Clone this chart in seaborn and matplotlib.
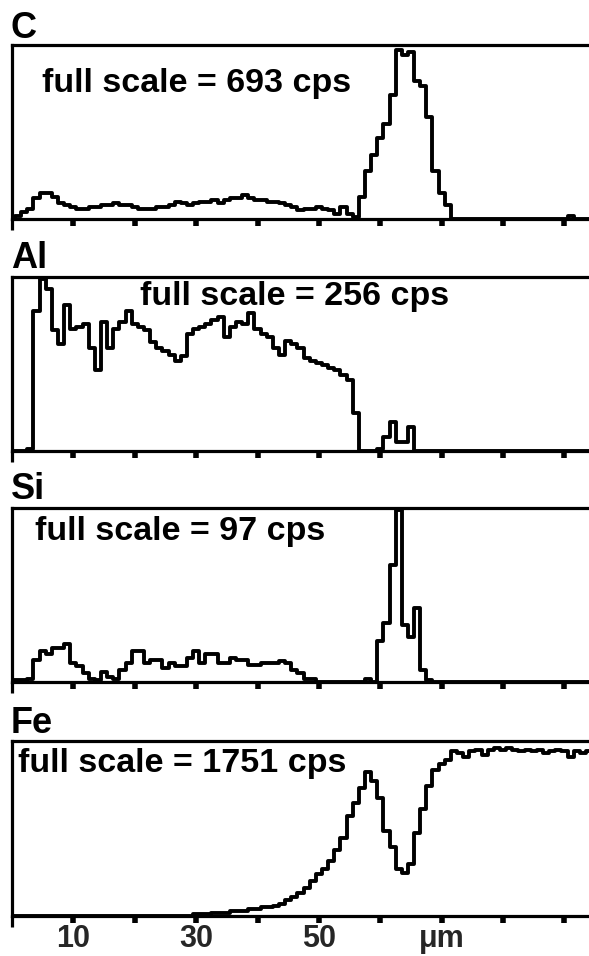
import numpy as np
import pandas as pd
import matplotlib
matplotlib.use("Agg")
import matplotlib.pyplot as plt
import seaborn as sns

# position along the line scan (µm)
position_um = list(range(0, 95))

# counts as percent of full scale for each element
c_pct = [1, 2, 4, 6, 12, 15, 15, 13, 9, 8, 7, 6, 6, 7, 7, 8, 8, 9, 8, 8,
         7, 6, 6, 6, 7, 7, 8, 10, 9, 8, 9, 10, 10, 11, 9, 11, 12, 12, 14, 12,
         11, 11, 10, 10, 9, 8, 7, 5, 6, 6, 7, 6, 5, 3, 7, 3, 1, 13, 28, 37,
         47, 55, 72, 98, 95, 97, 80, 77, 59, 28, 15, 8, 0, 0, 0, 0, 0, 0, 0, 0,
         0, 0, 0, 0, 0, 0, 0, 0, 0, 0, 0, 2, 0, 0, 0]
al_pct = [0, 0, 0, 1, 81, 100, 94, 70, 62, 85, 71, 72, 74, 60, 47, 75, 60, 71, 75, 81,
          74, 72, 70, 63, 60, 58, 56, 52, 55, 68, 71, 72, 74, 76, 78, 66, 72, 75, 74, 80,
          71, 68, 66, 60, 56, 64, 62, 60, 54, 52, 51, 50, 48, 47, 44, 41, 22, 0, 0, 0,
          1, 8, 17, 5, 5, 14, 0, 0, 0, 0, 0, 0, 0, 0, 0, 0, 0, 0, 0, 0,
          0, 0, 0, 0, 0, 0, 0, 0, 0, 0, 0, 0, 0, 0, 0]
si_pct = [1, 1, 1, 2, 13, 18, 16, 20, 20, 22, 11, 9, 5, 2, 1, 6, 3, 2, 7, 11,
          18, 18, 11, 13, 13, 8, 11, 9, 9, 14, 18, 11, 16, 16, 11, 11, 14, 13, 13, 10,
          10, 11, 11, 11, 12, 11, 7, 5, 2, 2, 0, 0, 0, 0, 0, 0, 0, 0, 2, 0,
          24, 34, 68, 100, 33, 26, 43, 7, 1, 0, 0, 0, 0, 0, 0, 0, 0, 0, 0, 0,
          0, 0, 0, 0, 0, 0, 0, 0, 0, 0, 0, 0, 0, 0, 0]
fe_pct = [0, 0, 0, 0, 0, 0, 0, 0, 0, 0, 0, 0, 0, 0, 0, 0, 0, 0, 0, 0,
          0, 0, 0, 0, 0, 0, 0, 0, 0, 0, 1, 1, 1, 2, 2, 2, 3, 3, 3, 4,
          4, 5, 5, 6, 7, 9, 11, 13, 16, 20, 24, 27, 32, 38, 45, 58, 65, 74, 83, 78,
          68, 49, 40, 27, 25, 30, 48, 62, 75, 84, 88, 90, 95, 94, 92, 95, 96, 93, 96, 97,
          96, 97, 96, 95, 96, 95, 96, 94, 95, 96, 95, 92, 95, 94, 95]

elements = ["C", "Al", "Si", "Fe"]
full_scale_cps = [693, 256, 97, 1751]
series = [c_pct, al_pct, si_pct, fe_pct]

tick_positions = [10, 20, 30, 40, 50, 60, 70, 80, 90]
tick_labels = ["10", "", "30", "", "50", "", "\u03bcm", "", ""]

sns.set_style("white")
plt.rcParams["font.family"] = ["Liberation Sans", "DejaVu Sans"]
plt.rcParams["font.weight"] = "bold"

W, H = 589, 956
fig = plt.figure(figsize=(W / 100, H / 100), dpi=100)

# layout in pixels: (top, bottom) of each box
boxes = [(45, 219), (277, 451), (508, 682), (741, 916)]
title_baselines = [38, 268, 499, 733]
text_pos = [(4.9, 0.73), (20.8, 0.84), (3.7, 0.816), (1.0, 0.823)]
left_px, right_px = 12, 589

for i, (el, fs, vals) in enumerate(zip(elements, full_scale_cps, series)):
    top, bot = boxes[i]
    ax = fig.add_axes([left_px / W, 1 - bot / H, (right_px - left_px) / W, (bot - top) / H])
    df = pd.DataFrame({"x": position_um, "y": vals})
    sns.lineplot(data=df, x="x", y="y", ax=ax, color="black", linewidth=2.8,
                 drawstyle="steps-mid", estimator=None)
    ax.set_xlim(0, 94)
    ax.set_ylim(0, 101)
    ax.set_xlabel("")
    ax.set_ylabel("")
    ax.set_yticks([])
    for s in ["top", "bottom", "left"]:
        ax.spines[s].set_visible(True)
        ax.spines[s].set_linewidth(2.3)
        ax.spines[s].set_color("black")
    ax.spines["right"].set_visible(False)
    ax.set_xticks(tick_positions)
    ax.set_xticks([0], minor=True)
    ax.tick_params(axis="x", which="major", direction="out", length=5, width=4,
                   color="black", bottom=True, pad=1)
    ax.tick_params(axis="x", which="minor", direction="out", length=8, width=2.3,
                   color="black", bottom=True, labelbottom=False)
    if i == 3:
        ax.set_xticklabels(tick_labels, fontsize=22, fontweight="bold")
    else:
        ax.set_xticklabels([""] * len(tick_positions))
    tx, ty = text_pos[i]
    ax.text(tx, ty * 101, f"full scale = {fs} cps", fontsize=24.5, fontweight="bold",
            ha="left", va="baseline", color="black")
    fig.text(left_px / W - 0.002, 1 - title_baselines[i] / H, el, fontsize=26,
             fontweight="bold", ha="left", va="baseline", color="black")

fig.savefig("out.png", dpi=100)
